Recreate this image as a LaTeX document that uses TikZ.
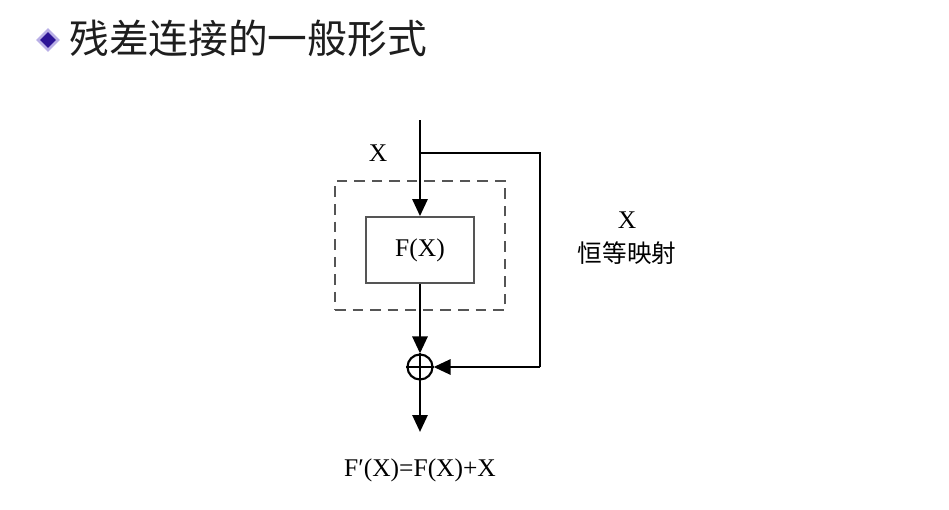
\documentclass[tikz,border=0pt]{standalone}
\usepackage{fontspec}
\setmainfont{Liberation Serif}
\newfontfamily\cjk{Noto Sans CJK SC}
\usetikzlibrary{arrows.meta,positioning,shapes.geometric,calc}
\definecolor{bulletblue}{RGB}{45,20,150}
\definecolor{bulletrim}{RGB}{185,175,230}
\definecolor{boxgray}{RGB}{85,85,85}
\definecolor{titlegray}{RGB}{30,30,30}
\tikzset{
  fbox/.style={rectangle, draw=boxgray, line width=1pt, minimum width=2.16cm,
               minimum height=1.32cm, font=\fontsize{14.5}{17}\selectfont},
  dashbox/.style={rectangle, draw=boxgray, line width=1.4pt, dash pattern=on 6pt off 4pt,
                  minimum width=3.4cm, minimum height=2.58cm},
  sumnode/.style={circle, draw, line width=1.2pt, minimum size=0.5cm, inner sep=0pt},
  arrow/.style={-{Triangle[length=3.4mm,width=3mm]}, line width=1.6pt},
  line/.style={line width=1.6pt},
  label/.style={font=\fontsize{14.5}{17}\selectfont, align=center, inner sep=0pt},
}
\begin{document}
\begin{tikzpicture}
\useasboundingbox (0,0) rectangle (18.98,-10.18);
% title
\node[diamond, fill=bulletblue, draw=bulletrim, line width=1.5pt, minimum size=0.42cm, inner sep=0pt] (bullet) at (0.96,-0.8) {};
\node[anchor=west, inner sep=0pt, text=titlegray, font=\cjk\fontsize{22.6}{27}\selectfont] (title) at (1.38,-0.76) {残差连接的一般形式};
% block
\node[dashbox] (block) at (8.4,-4.91) {};
\node[fbox] (fx) at (8.4,-5.0) {F(X)};
\node[sumnode] (sum) at (8.4,-7.34) {};
\draw[line width=0.8pt] (sum.north) -- (sum.south) (sum.west) -- (sum.east);
\coordinate (in) at (8.4,-2.4);
\coordinate (split) at (8.4,-3.06);
\coordinate (corner) at (10.8,-7.34);
\coordinate (out) at (8.4,-8.64);
\draw[arrow] (in) -- (fx.north);
\draw[arrow] (fx.south) -- (sum.north);
\draw[line] (split) -| (corner);
\draw[arrow] (corner) -- (sum.east);
\draw[arrow] (sum.south) -- (out);
% labels
\node[label] (xin) at (7.56,-3.06) {X};
\node[label] (xid) at (12.54,-4.4) {X};
\node[label, font=\cjk\fontsize{14}{17}\selectfont] (ident) at (12.54,-5.06) {恒等映射};
\node[label] (result) at (8.4,-9.4) {F′(X)=F(X)+X};
\end{tikzpicture}
\end{document}
